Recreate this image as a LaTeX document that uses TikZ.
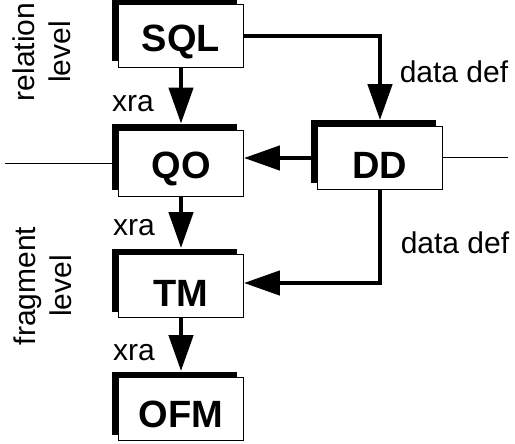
\documentclass[tikz,border=0pt]{standalone}
\usepackage{fontspec}
\setmainfont{Liberation Sans}
\usetikzlibrary{arrows.meta,shadows}
\begin{document}
\begin{tikzpicture}[x=1pt,y=-1pt,
 box/.style={draw, line width=0.8pt, fill=white, minimum width=125pt, minimum height=63pt, inner sep=0pt,
   general shadow={fill=black, shadow xshift=-6.5pt, shadow yshift=6pt}},
 boxtext/.style={font=\fontsize{38}{38}\selectfont\bfseries, inner sep=0pt},
 lab/.style={font=\fontsize{30}{36}\selectfont, inner sep=0pt},
 arr/.style={line width=4.5pt, -{Triangle[length=36pt,width=24pt]}},
 thinline/.style={line width=0.8pt}]
\useasboundingbox (0,0) rectangle (515,444);
% boxes
\node[box] (sql) at (181,36) {};
\node[box, minimum height=66pt] (qo) at (181,163) {};
\node[box] (dd) at (380,158) {};
\node[box] (tm) at (181,286) {};
\node[box] (ofm) at (181,409) {};
% box texts
\node[boxtext] (sqlt) at ([yshift=-6pt]sql.center) {SQL};
\node[boxtext] (qot) at ([yshift=-6pt]qo.center) {QO};
\node[boxtext] (ddt) at ([yshift=-7pt]dd.center) {DD};
\node[boxtext] (tmt) at ([yshift=-7pt]tm.center) {TM};
\node[boxtext] (ofmt) at ([yshift=-5pt]ofm.center) {OFM};
% thin level line
\coordinate (lend) at (5,163);
\coordinate (rend) at (508,157);
\draw[thinline] (lend) -- ([xshift=-6.5pt]qo.west |- lend);
\draw[thinline] (dd.east |- rend) -- (rend);
% arrows
\draw[arr] (sql.south) -- ([yshift=6pt]qo.north);
\draw[arr] (qo.south) -- ([yshift=6pt]tm.north);
\draw[arr] (tm.south) -- ([yshift=6pt]ofm.north);
\draw[arr] (sql.east) -| ([yshift=6pt]dd.north);
\draw[arr] ([xshift=-6.5pt]dd.west) -- (dd.west -| qo.east);
\draw[arr] (dd.south) |- ([yshift=3pt]tm.east);
% labels
\node[lab] (x1) at (133,104) {xra};
\node[lab] (x2) at (134,228) {xra};
\node[lab] (x3) at (134,353) {xra};
\node[lab] (dd1) at (454,72) {data def};
\node[lab] (dd2) at (455,243) {data def};
\node[lab, rotate=90, align=center] (rel) at (42,52) {relation\\level};
\node[lab, rotate=90, align=center] (frag) at (43,286) {fragment\\level};
\end{tikzpicture}
\end{document}
